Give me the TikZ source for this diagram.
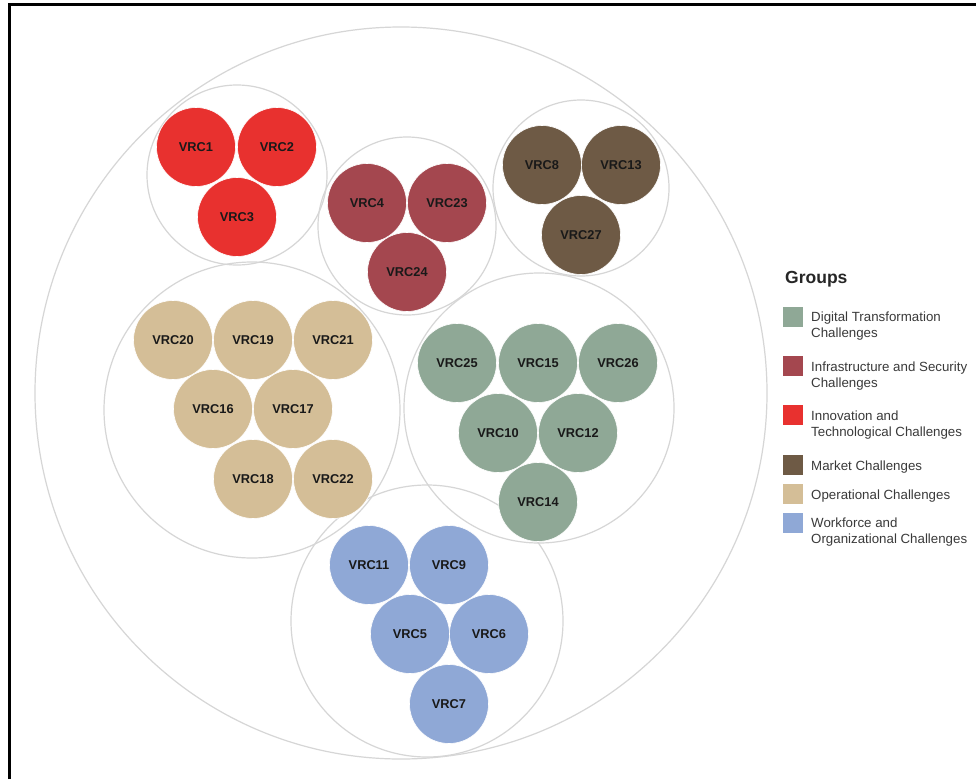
\documentclass[tikz,border=0pt]{standalone}
\usepackage{fontspec}
\setmainfont{Liberation Sans}
\definecolor{cRed}{HTML}{E8312F}
\definecolor{cMaroon}{HTML}{A4474F}
\definecolor{cBrown}{HTML}{6E5A45}
\definecolor{cTan}{HTML}{D4BE97}
\definecolor{cGreen}{HTML}{8FA896}
\definecolor{cBlue}{HTML}{8FA8D6}
\definecolor{ringgray}{HTML}{D6D6D6}
\definecolor{legtext}{HTML}{3A3A3A}
\begin{document}
\begin{tikzpicture}[x=1pt,y=-1pt,
  ring/.style={circle,draw=ringgray,line width=1.2pt,inner sep=0pt,outer sep=0pt},
  vrc/.style={circle,draw=white,line width=0.6pt,minimum size=79pt,inner sep=0pt,outer sep=0pt,font=\fontsize{12.8}{14}\selectfont\bfseries,text=black!90},
  legbox/.style={rectangle,minimum size=20pt,inner sep=0pt,draw=none},
  legtxt/.style={anchor=west,align=left,inner sep=0pt,font=\fontsize{13.3}{16.5}\selectfont,text=legtext}]
\useasboundingbox (0,0) rectangle (976,779);
\fill[white] (0,0) rectangle (976,779);
\draw[line width=2.2pt,black] (9.5,779) -- (9.5,4.5) -- (976,4.5);
% outer ring
\node[ring,minimum size=732pt] (outer) at (401,393) {};
% group rings
\node[ring,minimum size=180pt] (gInno) at (237,175) {};
\node[ring,minimum size=178pt] (gInfra) at (407,226) {};
\node[ring,minimum size=176pt] (gMarket) at (581,188) {};
\node[ring,minimum size=296pt] (gOper) at (252,410) {};
\node[ring,minimum size=270pt] (gDigi) at (539,408) {};
\node[ring,minimum size=272pt] (gWork) at (427,621) {};
% innovation
\node[vrc,fill=cRed] (v1) at (196,147) {VRC1};
\node[vrc,fill=cRed] (v2) at (277,147) {VRC2};
\node[vrc,fill=cRed] (v3) at (237,217) {VRC3};
% infrastructure
\node[vrc,fill=cMaroon] (v4) at (367,203) {VRC4};
\node[vrc,fill=cMaroon] (v23) at (447,203) {VRC23};
\node[vrc,fill=cMaroon] (v24) at (407,272) {VRC24};
% market
\node[vrc,fill=cBrown] (v8) at (542,165) {VRC8};
\node[vrc,fill=cBrown] (v13) at (621,165) {VRC13};
\node[vrc,fill=cBrown] (v27) at (581,235) {VRC27};
% operational
\node[vrc,fill=cTan] (v20) at (173,340) {VRC20};
\node[vrc,fill=cTan] (v19) at (253,340) {VRC19};
\node[vrc,fill=cTan] (v21) at (333,340) {VRC21};
\node[vrc,fill=cTan] (v16) at (213,409) {VRC16};
\node[vrc,fill=cTan] (v17) at (293,409) {VRC17};
\node[vrc,fill=cTan] (v18) at (253,479) {VRC18};
\node[vrc,fill=cTan] (v22) at (333,479) {VRC22};
% digital
\node[vrc,fill=cGreen] (v25) at (457,363) {VRC25};
\node[vrc,fill=cGreen] (v15) at (538,363) {VRC15};
\node[vrc,fill=cGreen] (v26) at (618,363) {VRC26};
\node[vrc,fill=cGreen] (v10) at (498,433) {VRC10};
\node[vrc,fill=cGreen] (v12) at (578,433) {VRC12};
\node[vrc,fill=cGreen] (v14) at (538,502) {VRC14};
% workforce
\node[vrc,fill=cBlue] (v11) at (369,565) {VRC11};
\node[vrc,fill=cBlue] (v9) at (449,565) {VRC9};
\node[vrc,fill=cBlue] (v5) at (410,634) {VRC5};
\node[vrc,fill=cBlue] (v6) at (489,634) {VRC6};
\node[vrc,fill=cBlue] (v7) at (449,704) {VRC7};
% legend
\node[anchor=west,inner sep=0pt,font=\fontsize{17.5}{20}\selectfont\bfseries,text=black!85] (legtitle) at (785,279) {Groups};
\node[legbox,fill=cGreen] (lb1) at (793,317) {};
\node[legtxt] (lt1) at (811,326) {Digital Transformation\\Challenges};
\node[legbox,fill=cMaroon] (lb2) at (793,366) {};
\node[legtxt] (lt2) at (811,376) {Infrastructure and Security\\Challenges};
\node[legbox,fill=cRed] (lb3) at (793,415) {};
\node[legtxt] (lt3) at (811,425) {Innovation and\\Technological Challenges};
\node[legbox,fill=cBrown] (lb4) at (793,465) {};
\node[legtxt] (lt4) at (811,467) {Market Challenges};
\node[legbox,fill=cTan] (lb5) at (793,494) {};
\node[legtxt] (lt5) at (811,496) {Operational Challenges};
\node[legbox,fill=cBlue] (lb6) at (793,523) {};
\node[legtxt] (lt6) at (811,532) {Workforce and\\Organizational Challenges};
\end{tikzpicture}
\end{document}
